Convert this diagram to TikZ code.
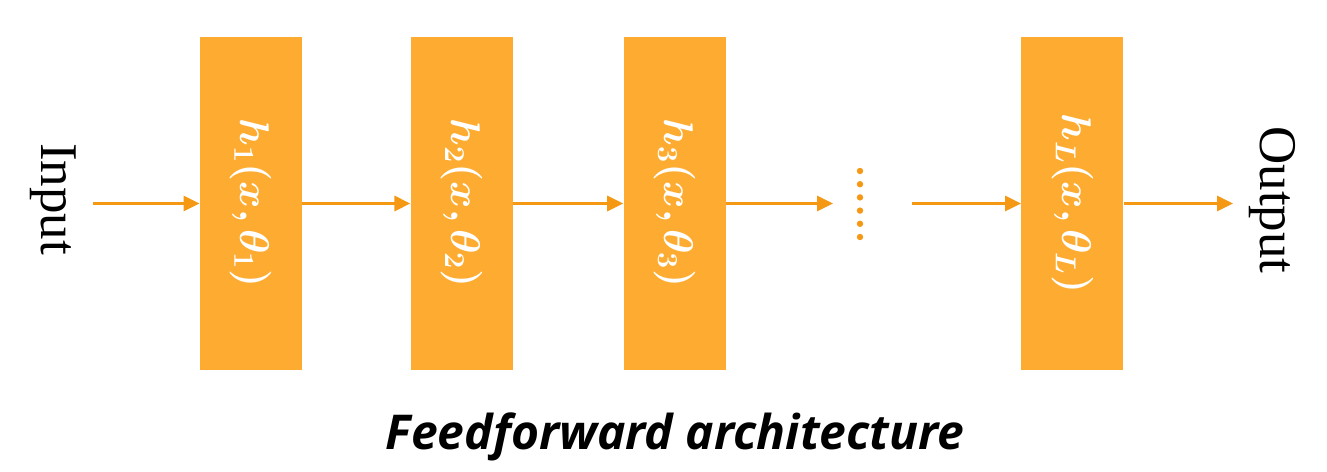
\documentclass[tikz,border=0pt]{standalone}
\usepackage{amsmath,bm}
\usepackage{fontspec}
\setmainfont{Liberation Serif}
\newfontfamily\captionfont{Open Sans}
\usetikzlibrary{positioning, arrows.meta}

\definecolor{layerorange}{RGB}{253,172,49}
\definecolor{arroworange}{RGB}{245,152,20}

\begin{document}
\begin{tikzpicture}[
x=0.5pt, y=-0.5pt,
node distance=54pt,
>={Triangle[length=8pt,width=7.5pt]},
layer/.style={rectangle, fill=layerorange, minimum width=51pt, minimum height=166.5pt, inner sep=0pt, text=white, font=\fontsize{21}{25}\selectfont},
iotext/.style={rotate=-90, font=\fontsize{26.5}{30}\selectfont, inner sep=0pt},
flow/.style={->, draw=arroworange, line width=1.5pt}
]
\useasboundingbox (0,0) rectangle (1327,471);

% Layers
\node[layer] (h1) at (251,203.5) {\rotatebox{-90}{$\bm{h_1(x,\theta_1)}$}};
\node[layer, right=54pt of h1] (h2) {\rotatebox{-90}{$\bm{h_2(x,\theta_2)}$}};
\node[layer, right=55pt of h2] (h3) {\rotatebox{-90}{$\bm{h_3(x,\theta_3)}$}};
\node[layer, right=147.5pt of h3] (h4) {\rotatebox{-90}{$\bm{h_L(x,\theta_L)}$}};

% Input / output
\node[iotext] (input) at (53,199) {Input};
\node[iotext] (output) at (1272,200) {Output};
\coordinate (in) at (93,203.5);
\coordinate (out) at (1233,203.5);
\coordinate (dotsL) at (833,203.5);
\coordinate (dotsR) at (912,203.5);

% dots
\foreach \k in {0,...,5}
  \fill[arroworange] (860,171+13.2*\k) circle (1.6pt);

% Connections
\draw[flow] (in) -- (h1);
\draw[flow] (h1) -- (h2);
\draw[flow] (h2) -- (h3);
\draw[flow] (h3) -- (dotsL);
\draw[flow] (dotsR) -- (h4);
\draw[flow] (h4) -- (out);

% Caption
\node[font=\captionfont\bfseries\itshape\fontsize{24}{28}\selectfont] (caption) at (675,437) {Feedforward architecture};
\end{tikzpicture}
\end{document}
